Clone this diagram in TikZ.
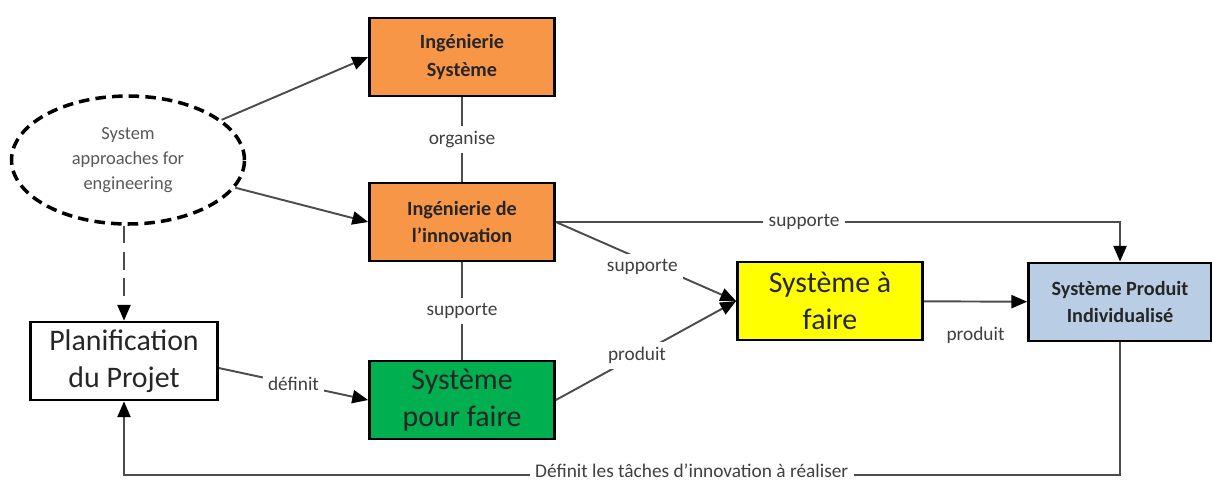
\documentclass[tikz,border=0pt]{standalone}
\usepackage{fontspec}
\setmainfont{Carlito}
\usetikzlibrary{arrows.meta,positioning,shapes.geometric}

\definecolor{orangebox}{HTML}{F79646}
\definecolor{greenbox}{HTML}{00B050}
\definecolor{yellowbox}{HTML}{FFFF00}
\definecolor{bluebox}{HTML}{B9CDE5}

\begin{document}
\begin{tikzpicture}[x=0.02cm,y=-0.02cm,
    box/.style={draw=black,line width=1.6pt,align=center,minimum width=3.7cm,minimum height=1.56cm,inner sep=2pt},
    small/.style={font=\fontsize{11.5}{15.5}\selectfont\bfseries,text=black!85},
    big/.style={font=\fontsize{17}{21}\selectfont,text=black!85},
    lbl/.style={fill=white,text=black!75,font=\fontsize{11}{13}\selectfont,inner sep=3pt},
    link/.style={draw=black!70,line width=1.1pt},
    arr/.style={link,-{Triangle[length=9pt,width=7.5pt,black]}}]
      \useasboundingbox (0,0) rectangle (1212,485);

      \node[ellipse,draw=black,line width=2pt,dash pattern=on 6pt off 3.5pt,fill=white,
            minimum width=4.66cm,minimum height=2.56cm,inner sep=0pt,align=center,
            text=black!65,font=\fontsize{10.5}{14}\selectfont] (sae) at (128,160) {System\\approaches for\\engineering};
      \node[box,small,fill=orangebox] (is) at (462,57) {Ingénierie\\Système};
      \node[box,small,fill=orangebox] (ii) at (462,222) {Ingénierie de\\l’innovation};
      \node[box,big,fill=greenbox] (spf) at (462,400) {Système\\pour faire};
      \node[box,big,fill=white,minimum width=3.74cm] (plan) at (124,361) {Planification\\du Projet};
      \node[box,big,fill=yellowbox] (saf) at (830,301) {Système à\\faire};
      \node[box,small,fill=bluebox,minimum width=3.66cm] (spi) at (1120,302) {Système Produit\\Individualisé};
      \coordinate (low) at (0,475);

      \draw[arr] (sae) -- (is.west);
      \draw[arr] (sae) -- (ii.west);
      \draw[arr,dash pattern=on 10pt off 5pt] (sae.south -| plan.north) -- (plan.north);

      \draw[link] (is) -- node[lbl]{organise} (ii);
      \draw[link] (ii) -- node[lbl]{supporte} (spf);
      \draw[arr] (ii.east) -| node[lbl,pos=0.22]{supporte} (spi.north);
      \draw[arr] (ii.east) -- node[lbl,pos=0.48,yshift=-4pt]{supporte} (saf.west);
      \draw[arr] (spf.east) -- node[lbl,pos=0.45]{produit} (saf.west);
      \draw[arr] ([yshift=-4pt]plan.east) -- node[lbl]{définit} (spf.west);
      \draw[arr] (saf) -- node[lbl,below=0.38cm]{produit} (spi);
      \draw[arr] (spi.south) -- (spi.south |- low) -| node[lbl,pos=0.215,yshift=2.5pt,inner ysep=1.5pt]{Définit les tâches d’innovation à réaliser} (plan.south);
\end{tikzpicture}
\end{document}
